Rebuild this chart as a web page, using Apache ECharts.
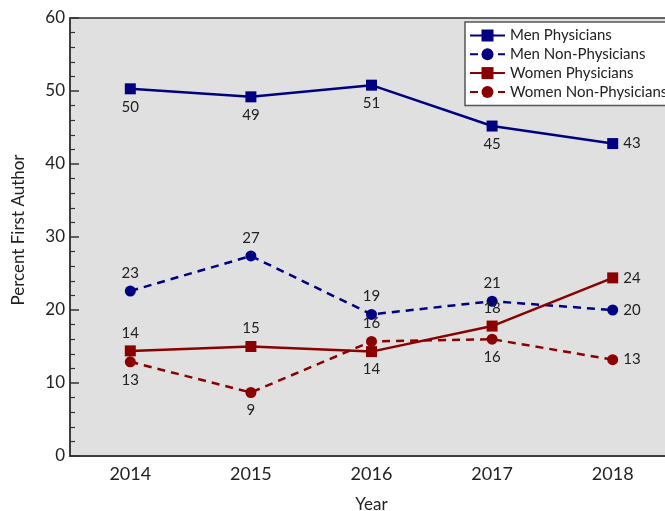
<!DOCTYPE html>
<html>
<head>
<meta charset="utf-8">
<script src="https://cdn.jsdelivr.net/npm/echarts@6/dist/echarts.min.js"></script>
<style>
  html, body { margin: 0; padding: 0; background: #fff; }
  #chart { width: 665px; height: 511px; }
</style>
</head>
<body>
<div id="chart"></div>
<script>
const years = ['2014', '2015', '2016', '2017', '2018']
const menPhysicians = [50.3, 49.2, 50.8, 45.2, 42.8]
const menNonPhysicians = [22.6, 27.4, 19.4, 21.2, 20.0]
const womenPhysicians = [14.4, 15.0, 14.3, 17.8, 24.4]
const womenNonPhysicians = [12.9, 8.7, 15.7, 16.0, 13.2]
const yTicks = [0, 10, 20, 30, 40, 50, 60]

const FONT = 'Lato'
const NAVY = '#000080'
const MAROON = '#8b0000'

// where each value label sits relative to its point
const withLabels = (values, places) => values.map((v, i) => ({
  value: v,
  label: { position: places[i] }
}))

const makeSeries = (name, values, places, color, symbol, dashed) => ({
  name,
  type: 'line',
  data: withLabels(values, places),
  symbol,
  symbolSize: 11,
  color,
  lineStyle: { color, width: 2.5, type: dashed ? [8, 6] : 'solid' },
  itemStyle: { color },
  label: {
    show: true,
    fontFamily: FONT,
    fontSize: 15,
    color: '#222',
    distance: 5,
    formatter: p => Math.round(p.value)
  },
  emphasis: { disabled: true },
  animation: false
})

const chart = echarts.init(document.getElementById('chart'))

chart.setOption({
  animation: false,
  textStyle: { fontFamily: FONT },
  grid: {
    left: 70,
    width: 603,
    top: 18,
    bottom: 55,
    outerBoundsMode: 'none',
    containLabel: false,
    show: true,
    backgroundColor: '#e0e0e0',
    borderColor: '#333',
    borderWidth: 1.5
  },
  legend: {
    orient: 'vertical',
    left: 465,
    top: 22,
    padding: [6, 10, 6, 4],
    itemGap: 3.8,
    itemWidth: 35,
    itemHeight: 15,
    backgroundColor: '#fff',
    borderColor: '#555',
    borderWidth: 1.5,
    borderRadius: 0,
    textStyle: { fontFamily: FONT, fontSize: 15, color: '#222' },
    data: ['Men Physicians', 'Men Non-Physicians', 'Women Physicians', 'Women Non-Physicians']
  },
  xAxis: {
    type: 'category',
    data: years,
    boundaryGap: true,
    name: 'Year',
    nameLocation: 'middle',
    nameGap: 40,
    nameTextStyle: { fontFamily: FONT, fontSize: 17, color: '#222' },
    axisLine: { lineStyle: { color: '#333', width: 1.5 } },
    axisTick: { alignWithLabel: true, inside: true, length: 8, lineStyle: { color: '#333', width: 1.5 } },
    axisLabel: { fontFamily: FONT, fontSize: 18, color: '#222', margin: 9 },
    splitLine: { show: false }
  },
  yAxis: {
    type: 'value',
    min: yTicks[0],
    max: yTicks[yTicks.length - 1],
    interval: 10,
    name: 'Percent First Author',
    nameLocation: 'middle',
    nameGap: 43,
    nameTextStyle: { fontFamily: FONT, fontSize: 17, color: '#222', padding: [0, 0, 0, 14] },
    axisLine: { show: true, lineStyle: { color: '#333', width: 1.5 } },
    axisTick: { show: true, inside: true, length: 9, lineStyle: { color: '#333', width: 1.5 } },
    minorTick: { show: true, splitNumber: 5, length: 5, lineStyle: { color: '#333', width: 1.2 } },
    axisLabel: { fontFamily: FONT, fontSize: 17, color: '#222', margin: 5 },
    splitLine: { show: false }
  },
  series: [
    makeSeries('Men Physicians', menPhysicians,
      ['bottom', 'bottom', 'bottom', 'bottom', 'right'], NAVY, 'rect', false),
    makeSeries('Men Non-Physicians', menNonPhysicians,
      ['top', 'top', 'top', 'top', 'right'], NAVY, 'circle', true),
    makeSeries('Women Physicians', womenPhysicians,
      ['top', 'top', 'bottom', 'top', 'right'], MAROON, 'rect', false),
    makeSeries('Women Non-Physicians', womenNonPhysicians,
      ['bottom', 'bottom', 'top', 'bottom', 'right'], MAROON, 'circle', true)
  ]
})
</script>
</body>
</html>
